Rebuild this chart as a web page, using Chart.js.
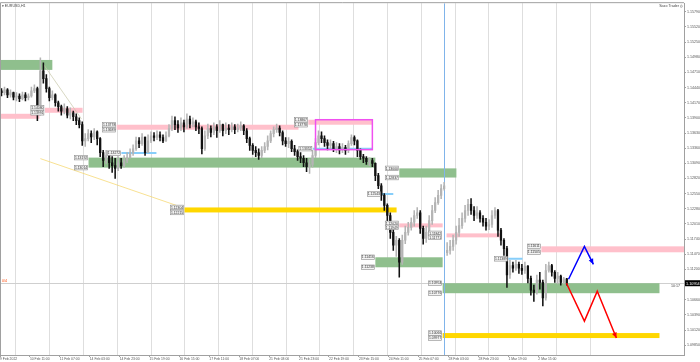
<!DOCTYPE html>
<html>
<head>
<meta charset="utf-8">
<title>EURUSD,H1</title>
<script src="https://cdn.jsdelivr.net/npm/chart.js@4.4.1/dist/chart.umd.min.js"></script>
<style>
    html, body { margin: 0; padding: 0; background: #fff; }
    #wrap { width: 700px; height: 362px; }
</style>
</head>
<body>
<div id="wrap"><canvas id="priceChart" width="700" height="362"></canvas></div>
<script>
// ========== DADOS ==========
// x axis unit = one 2-hour slot, counted from 9 Feb 15:00

const timeLabels = ['9 Feb 2022', '10 Feb 11:00', '11 Feb 07:00', '14 Feb 03:00', '14 Feb 23:00',
    '15 Feb 19:00', '16 Feb 15:00', '17 Feb 11:00', '18 Feb 07:00', '21 Feb 03:00', '21 Feb 23:00',
    '22 Feb 19:00', '23 Feb 15:00', '24 Feb 11:00', '25 Feb 07:00', '28 Feb 03:00', '28 Feb 23:00',
    '1 Mar 19:00', '2 Mar 15:00'];
const timeLabelSlots = [0, 10, 20, 30, 40, 50, 60, 70, 80, 90, 100, 110, 120, 130, 140, 150, 160, 170, 180];
const dayStarts = [4.5, 16.5, 28.5, 40.5, 52.5, 64.5, 76.5, 88.5, 100.5, 112.5, 124.5, 136.5, 148.5, 160.5, 172.5, 184.5, 196.5];
const priceTicks = [1.15790, 1.15520, 1.15250, 1.14980, 1.14710, 1.14440, 1.14170, 1.13900, 1.13630,
    1.13360, 1.13090, 1.12820, 1.12550, 1.12280, 1.12010, 1.11740, 1.11470, 1.11200,
    1.10660, 1.10390, 1.10120, 1.09850];

const firstOpen = 1.1438;
const gapOpens = [[149, 1.1150]];

const closes = [
    1.1435, 1.1440, 1.1431, 1.1435, 1.1427,
    1.1429, 1.1424, 1.1431, 1.1426, 1.1429, 1.1438, 1.1442, 1.1399, 1.1474, 1.1460, 1.1442, 1.1426,
    1.1431, 1.1417, 1.1410, 1.1402, 1.1406, 1.1395, 1.1399, 1.1392, 1.1385, 1.1378, 1.1349, 1.1353,
    1.1362, 1.1356, 1.1365, 1.1353, 1.1328, 1.1314, 1.1323, 1.1310, 1.1305, 1.1300, 1.1310, 1.1305,
    1.1314, 1.1319, 1.1328, 1.1335, 1.1349, 1.1344, 1.1356, 1.1328, 1.1349, 1.1358, 1.1355, 1.1360,
    1.1355, 1.1349, 1.1358, 1.1371, 1.1385, 1.1378, 1.1372, 1.1381, 1.1374, 1.1388, 1.1379, 1.1383,
    1.1374, 1.1371, 1.1335, 1.1358, 1.1371, 1.1364, 1.1374, 1.1367, 1.1378, 1.1367, 1.1372, 1.1369,
    1.1374, 1.1369, 1.1372, 1.1376, 1.1367, 1.1353, 1.1341, 1.1332, 1.1328, 1.1323, 1.1332, 1.1339,
    1.1349, 1.1362, 1.1369, 1.1372, 1.1364, 1.1349, 1.1344, 1.1348, 1.1335, 1.1330, 1.1321, 1.1318,
    1.1310, 1.1303, 1.1307, 1.1323, 1.1346, 1.1358, 1.1353, 1.1346, 1.1341, 1.1344, 1.1335, 1.1339,
    1.1333, 1.1337, 1.1332, 1.1344, 1.1355, 1.1349, 1.1332, 1.1321, 1.1318, 1.1312, 1.1314, 1.1309,
    1.1287, 1.1269, 1.1252, 1.1234, 1.1216, 1.1186, 1.1163, 1.1172, 1.1133, 1.1172, 1.1186, 1.1195,
    1.1204, 1.1216, 1.1221, 1.1193, 1.1175, 1.1186, 1.1207, 1.1225, 1.1239, 1.1252, 1.1264, 1.1269,
    1.1154, 1.1161, 1.1172, 1.1186, 1.1198, 1.1211, 1.1225, 1.1236, 1.1225, 1.1216, 1.1221, 1.1211,
    1.1204, 1.1197, 1.1200, 1.1216, 1.1225, 1.1190, 1.1172, 1.1157, 1.1110, 1.1127, 1.1122, 1.1129,
    1.1122, 1.1118, 1.1126, 1.1104, 1.1083, 1.1079, 1.1101, 1.1097, 1.1069, 1.1118, 1.1127, 1.1115,
    1.1104, 1.1108, 1.1097, 1.1103, 1.1096
];

const highs = [
    1.1442, 1.1445, 1.1442, 1.1440, 1.1436,
    1.1435, 1.1433, 1.1436, 1.1435, 1.1433, 1.1445, 1.1449, 1.1445, 1.1497, 1.1488, 1.1467, 1.1445,
    1.1438, 1.1433, 1.1420, 1.1413, 1.1415, 1.1410, 1.1408, 1.1402, 1.1397, 1.1390, 1.1383, 1.1362,
    1.1369, 1.1367, 1.1371, 1.1367, 1.1355, 1.1332, 1.1332, 1.1326, 1.1321, 1.1318, 1.1321, 1.1318,
    1.1323, 1.1328, 1.1335, 1.1342, 1.1356, 1.1355, 1.1362, 1.1356, 1.1360, 1.1365, 1.1364, 1.1367,
    1.1365, 1.1360, 1.1365, 1.1378, 1.1393, 1.1392, 1.1385, 1.1390, 1.1386, 1.1397, 1.1393, 1.1390,
    1.1386, 1.1381, 1.1374, 1.1367, 1.1379, 1.1376, 1.1381, 1.1378, 1.1385, 1.1379, 1.1381, 1.1378,
    1.1381, 1.1378, 1.1379, 1.1383, 1.1378, 1.1371, 1.1356, 1.1344, 1.1339, 1.1335, 1.1339, 1.1346,
    1.1358, 1.1367, 1.1374, 1.1379, 1.1376, 1.1367, 1.1355, 1.1355, 1.1351, 1.1341, 1.1333, 1.1328,
    1.1323, 1.1318, 1.1316, 1.1332, 1.1353, 1.1367, 1.1365, 1.1358, 1.1351, 1.1351, 1.1348, 1.1346,
    1.1344, 1.1344, 1.1341, 1.1349, 1.1360, 1.1358, 1.1351, 1.1335, 1.1325, 1.1321, 1.1319, 1.1318,
    1.1310, 1.1291, 1.1273, 1.1255, 1.1237, 1.1221, 1.1193, 1.1179, 1.1175, 1.1181, 1.1197, 1.1204,
    1.1212, 1.1225, 1.1230, 1.1225, 1.1197, 1.1197, 1.1216, 1.1234, 1.1248, 1.1261, 1.1271, 1.1275,
    1.1168, 1.1172, 1.1181, 1.1197, 1.1211, 1.1221, 1.1234, 1.1245, 1.1246, 1.1232, 1.1232, 1.1225,
    1.1216, 1.1211, 1.1209, 1.1225, 1.1230, 1.1227, 1.1193, 1.1175, 1.1161, 1.1136, 1.1133, 1.1136,
    1.1133, 1.1129, 1.1133, 1.1127, 1.1108, 1.1092, 1.1110, 1.1115, 1.1101, 1.1129, 1.1133, 1.1129,
    1.1118, 1.1115, 1.1110, 1.1106, 1.1104
];

const lows = [
    1.1429, 1.1431, 1.1426, 1.1427, 1.1422,
    1.1420, 1.1419, 1.1422, 1.1420, 1.1422, 1.1427, 1.1435, 1.1385, 1.1395, 1.1452, 1.1436, 1.1420,
    1.1422, 1.1411, 1.1402, 1.1395, 1.1397, 1.1390, 1.1388, 1.1385, 1.1378, 1.1372, 1.1341, 1.1339,
    1.1349, 1.1346, 1.1351, 1.1342, 1.1321, 1.1303, 1.1309, 1.1300, 1.1293, 1.1282, 1.1296, 1.1300,
    1.1302, 1.1310, 1.1318, 1.1323, 1.1332, 1.1337, 1.1341, 1.1323, 1.1328, 1.1346, 1.1349, 1.1351,
    1.1349, 1.1346, 1.1348, 1.1356, 1.1367, 1.1369, 1.1364, 1.1367, 1.1365, 1.1371, 1.1372, 1.1374,
    1.1367, 1.1362, 1.1326, 1.1332, 1.1353, 1.1356, 1.1360, 1.1355, 1.1364, 1.1358, 1.1362, 1.1360,
    1.1365, 1.1362, 1.1365, 1.1367, 1.1360, 1.1346, 1.1332, 1.1325, 1.1321, 1.1316, 1.1319, 1.1328,
    1.1333, 1.1346, 1.1356, 1.1364, 1.1358, 1.1342, 1.1339, 1.1337, 1.1330, 1.1323, 1.1314, 1.1310,
    1.1303, 1.1294, 1.1291, 1.1302, 1.1319, 1.1342, 1.1346, 1.1339, 1.1333, 1.1335, 1.1330, 1.1328,
    1.1326, 1.1328, 1.1325, 1.1328, 1.1341, 1.1342, 1.1321, 1.1316, 1.1310, 1.1307, 1.1305, 1.1303,
    1.1278, 1.1264, 1.1243, 1.1225, 1.1207, 1.1175, 1.1154, 1.1143, 1.1106, 1.1129, 1.1166, 1.1181,
    1.1190, 1.1197, 1.1211, 1.1184, 1.1165, 1.1168, 1.1181, 1.1200, 1.1221, 1.1236, 1.1246, 1.1261,
    1.1145, 1.1147, 1.1154, 1.1165, 1.1179, 1.1193, 1.1204, 1.1216, 1.1218, 1.1207, 1.1211, 1.1204,
    1.1197, 1.1190, 1.1191, 1.1195, 1.1211, 1.1179, 1.1163, 1.1145, 1.1088, 1.1104, 1.1115, 1.1118,
    1.1113, 1.1111, 1.1113, 1.1096, 1.1074, 1.1063, 1.1076, 1.1085, 1.1055, 1.1065, 1.1115, 1.1108,
    1.1097, 1.1094, 1.1092, 1.1094, 1.1092
];

// zones: [start slot, end slot, top price, bottom price]
const greenZones = [[0, 17.5, 1.14932, 1.14755], [29.6, 125.5, 1.13192, 1.13014], [133.5, 152.6, 1.13000, 1.12837],
    [125.5, 148, 1.11416, 1.11238], [148, 220.5, 1.10954, 1.10776]];
const pinkZones = [[0, 13.2, 1.13973, 1.13884], [15, 27.6, 1.14080, 1.13991], [39, 99.8, 1.13778, 1.13689],
    [103.1, 124.5, 1.13867, 1.13778], [133.5, 148, 1.12020, 1.11949], [149.3, 167.7, 1.11842, 1.11771],
    [181, 228.7, 1.11611, 1.11505]];
const goldZones = [[61.7, 132.6, 1.12304, 1.12215], [148, 220.5, 1.10066, 1.09977]];
const blueLevels = [[40.6, 52.3, 1.13272], [104.6, 124.5, 1.13352], [127.5, 131.5, 1.12543], [170, 174.7, 1.11389]];
const rangeBox = [105.5, 124.5, 1.13867, 1.13334];
const priceTags = [[15, 1.14080], [15, 1.13991], [29.6, 1.13192], [29.6, 1.13014], [39, 1.13778], [39, 1.13689],
    [40.6, 1.13272], [61.7, 1.12304], [61.7, 1.12215], [103.1, 1.13867], [103.1, 1.13778], [104.6, 1.13352],
    [125.5, 1.11416], [125.5, 1.11238], [127.5, 1.12543], [133.5, 1.13000], [133.5, 1.12837], [133.5, 1.12020],
    [133.5, 1.11949], [148, 1.11842], [148, 1.11771], [148, 1.10954], [148, 1.10776], [148, 1.10066],
    [148, 1.09977], [170, 1.11389], [181, 1.11611], [181, 1.11505]];

const upPath = [[190.1, 1.11025], [195.4, 1.11611], [198.4, 1.11291]];
const downPath = [[189.4, 1.10954], [195.4, 1.10279], [199.7, 1.10812], [206.1, 1.09977]];
const spikeLine = [[14.2, 1.14879], [27.2, 1.13884]];
const paleTrend = [[13.5, 1.13174], [60, 1.12322]];

const markerSlot = 148.5;
const bidPrice = 1.10954;

// ========== CORES ==========
const colors = {
    green: '#8fbf8d',
    pink: '#ffc0cb',
    gold: '#ffd700',
    level: '#87cefa',
    box: '#f050f0',
    bull: '#b4b4b4',
    bear: '#111111',
    grid: '#dedede',
    axis: '#a0a0a0',
    text: '#555555',
    marker: '#80b4ea'
};
const fontFamily = '"Liberation Sans", "DejaVu Sans", sans-serif';

// ========== CANDLES ==========
const opens = closes.map((c, i) => (i === 0 ? firstOpen : closes[i - 1]));
gapOpens.forEach(([i, o]) => { opens[i] = o; });

const bodyData = closes.map((c, i) => ({ x: i + 0.5, y: [opens[i], c] }));
const wickData = closes.map((c, i) => ({
    x: i + 0.5,
    y: [Math.min(lows[i], opens[i], c), Math.max(highs[i], opens[i], c)]
}));
const candleColors = closes.map((c, i) => (c >= opens[i] ? colors.bull : colors.bear));

const toPoints = path => path.map(p => ({ x: p[0], y: p[1] }));

// ========== DESENHOS ==========
function arrowHead(ctx, x0, y0, x1, y1, color) {
    const a = Math.atan2(y1 - y0, x1 - x0);
    ctx.fillStyle = color;
    ctx.beginPath();
    ctx.moveTo(x1, y1);
    ctx.lineTo(x1 - 6 * Math.cos(a - 0.42), y1 - 6 * Math.sin(a - 0.42));
    ctx.lineTo(x1 - 6 * Math.cos(a + 0.42), y1 - 6 * Math.sin(a + 0.42));
    ctx.closePath();
    ctx.fill();
}

function priceTag(ctx, xr, y, text) {
    const w = 13, h = 4.6;
    ctx.fillStyle = '#f3f3f3';
    ctx.fillRect(xr - w, y - h / 2, w, h);
    ctx.strokeStyle = '#8c8c8c';
    ctx.lineWidth = 0.6;
    ctx.strokeRect(xr - w, y - h / 2, w, h);
    ctx.fillStyle = '#333';
    ctx.font = '3.4px ' + fontFamily;
    ctx.textAlign = 'center';
    ctx.textBaseline = 'middle';
    ctx.fillText(text, xr - w / 2, y + 0.2);
}

const drawingsPlugin = {
    id: 'drawings',
    beforeDatasetsDraw(chart) {
        const { ctx, chartArea: area, scales: { x, y } } = chart;
        ctx.save();
        ctx.beginPath();
        ctx.rect(area.left, area.top, area.right - area.left, area.bottom - area.top);
        ctx.clip();

        // bid line
        ctx.strokeStyle = '#cfcfcf';
        ctx.lineWidth = 1;
        ctx.beginPath();
        ctx.moveTo(area.left, Math.round(y.getPixelForValue(bidPrice)) + 0.5);
        ctx.lineTo(area.right, Math.round(y.getPixelForValue(bidPrice)) + 0.5);
        ctx.stroke();

        const fillZones = (zones, color) => {
            ctx.fillStyle = color;
            zones.forEach(([s, e, top, bottom]) => {
                const x0 = x.getPixelForValue(s), x1 = x.getPixelForValue(e);
                const y0 = y.getPixelForValue(top), y1 = y.getPixelForValue(bottom);
                ctx.fillRect(x0, y0, x1 - x0, y1 - y0);
            });
        };
        fillZones(greenZones, colors.green);
        fillZones(pinkZones, colors.pink);
        fillZones(goldZones, colors.gold);

        // short horizontal levels
        ctx.strokeStyle = colors.level;
        ctx.lineWidth = 2;
        blueLevels.forEach(([s, e, p]) => {
            const py = y.getPixelForValue(p);
            ctx.beginPath();
            ctx.moveTo(x.getPixelForValue(s), py);
            ctx.lineTo(x.getPixelForValue(e), py);
            ctx.stroke();
        });

        // vertical marker
        const mx = Math.round(x.getPixelForValue(markerSlot)) + 0.5;
        ctx.strokeStyle = colors.marker;
        ctx.lineWidth = 1;
        ctx.beginPath();
        ctx.moveTo(mx, area.top);
        ctx.lineTo(mx, area.bottom);
        ctx.stroke();
        ctx.restore();
    },
    afterDatasetsDraw(chart) {
        const { ctx, chartArea: area, scales: { x, y } } = chart;
        ctx.save();

        // range rectangle
        ctx.strokeStyle = colors.box;
        ctx.lineWidth = 1.5;
        const bx0 = x.getPixelForValue(rangeBox[0]), bx1 = x.getPixelForValue(rangeBox[1]);
        const by0 = y.getPixelForValue(rangeBox[2]), by1 = y.getPixelForValue(rangeBox[3]);
        ctx.strokeRect(bx0, by0, bx1 - bx0, by1 - by0);

        // arrow heads
        [[upPath, '#0000ff'], [downPath, '#ff0000']].forEach(([path, color]) => {
            const a = path[path.length - 2], b = path[path.length - 1];
            arrowHead(ctx, x.getPixelForValue(a[0]), y.getPixelForValue(a[1]),
                x.getPixelForValue(b[0]), y.getPixelForValue(b[1]), color);
        });

        // price tags
        priceTags.forEach(([s, p]) => {
            priceTag(ctx, x.getPixelForValue(s) - 1, y.getPixelForValue(p), p.toFixed(5));
        });

        // frame
        ctx.strokeStyle = colors.axis;
        ctx.lineWidth = 1;
        ctx.beginPath();
        ctx.moveTo(area.left + 0.5, area.bottom);
        ctx.lineTo(area.left + 0.5, area.top - 0.5);
        ctx.lineTo(area.right, area.top - 0.5);
        ctx.stroke();

        // texts
        ctx.font = '3.6px ' + fontFamily;
        ctx.textBaseline = 'middle';
        ctx.textAlign = 'left';
        ctx.fillStyle = '#444';
        ctx.fillText('\u25BE EURUSD,H1', area.left + 2, area.top + 3);
        ctx.textAlign = 'right';
        ctx.fillText('Saxo Trader \u25CE', area.right - 1, area.top + 3);

        const bidY = y.getPixelForValue(bidPrice);
        ctx.fillText('10:17', area.right - 4, bidY + 2.5);
        ctx.textAlign = 'left';
        ctx.fillStyle = '#ff4500';
        ctx.fillText('0/4', area.left + 2, bidY - 2.5);

        // current price box
        ctx.fillStyle = '#000';
        ctx.fillRect(area.right + 1, bidY - 3, chart.width - area.right - 1, 6);
        ctx.fillStyle = '#fff';
        ctx.font = '3.8px ' + fontFamily;
        ctx.fillText(bidPrice.toFixed(5), area.right + 2, bidY + 0.3);
        ctx.restore();
    }
};

// ========== GRÁFICO ==========
const xMax = 228.7;

const priceChart = new Chart(document.getElementById('priceChart'), {
    type: 'bar',
    data: {
        datasets: [
            {
                label: 'body',
                data: bodyData,
                backgroundColor: candleColors,
                borderWidth: 0,
                barThickness: 1.6,
                grouped: false,
                order: 1
            },
            {
                label: 'wick',
                data: wickData,
                backgroundColor: candleColors,
                borderWidth: 0,
                barThickness: 0.9,
                grouped: false,
                order: 2
            },
            {
                type: 'line',
                label: 'up',
                data: toPoints(upPath),
                borderColor: '#0000ff',
                borderWidth: 1.5,
                pointRadius: 0,
                order: 0
            },
            {
                type: 'line',
                label: 'down',
                data: toPoints(downPath),
                borderColor: '#ff0000',
                borderWidth: 1.5,
                pointRadius: 0,
                order: 0
            },
            {
                type: 'line',
                label: 'spike',
                data: toPoints(spikeLine),
                borderColor: 'rgba(200, 200, 170, 0.7)',
                borderWidth: 1,
                pointRadius: 0,
                order: 3
            },
            {
                type: 'line',
                label: 'trend',
                data: toPoints(paleTrend),
                borderColor: 'rgba(245, 215, 110, 0.75)',
                borderWidth: 1,
                pointRadius: 0,
                order: 3
            }
        ]
    },
    options: {
        responsive: false,
        animation: false,
        events: [],
        layout: { padding: { top: 2, left: 0, right: 0, bottom: 0 } },
        plugins: {
            legend: { display: false },
            tooltip: { enabled: false }
        },
        scales: {
            x: {
                type: 'linear',
                min: 0,
                max: xMax,
                offset: false,
                position: 'bottom',
                grid: { drawOnChartArea: false, tickLength: 2, color: colors.axis, offset: false },
                border: { color: colors.axis },
                ticks: {
                    autoSkip: false,
                    maxRotation: 0,
                    align: 'start',
                    padding: 0,
                    color: colors.text,
                    font: { size: 3.4, family: fontFamily },
                    callback: (value, index) => timeLabels[index]
                },
                afterBuildTicks: scale => {
                    scale.ticks = timeLabelSlots.map(v => ({ value: v }));
                },
                afterFit: scale => { scale.height = 7; }
            },
            days: {
                axis: 'x',
                type: 'linear',
                min: 0,
                max: xMax,
                position: 'bottom',
                ticks: { display: false },
                grid: { color: colors.grid, drawTicks: false, lineWidth: 1 },
                border: { display: false },
                afterBuildTicks: scale => {
                    scale.ticks = dayStarts.map(v => ({ value: v }));
                },
                afterFit: scale => { scale.height = 0; }
            },
            y: {
                type: 'linear',
                position: 'right',
                min: 1.09675,
                max: 1.15944,
                grid: { drawOnChartArea: false, tickLength: 2, color: colors.axis },
                border: { color: colors.axis },
                ticks: {
                    autoSkip: false,
                    padding: 1,
                    color: colors.text,
                    font: { size: 3.6, family: fontFamily },
                    callback: value => value.toFixed(5)
                },
                afterBuildTicks: scale => {
                    scale.ticks = priceTicks.map(v => ({ value: v }));
                },
                afterFit: scale => { scale.width = 16; }
            }
        }
    },
    plugins: [drawingsPlugin]
});
</script>
</body>
</html>
